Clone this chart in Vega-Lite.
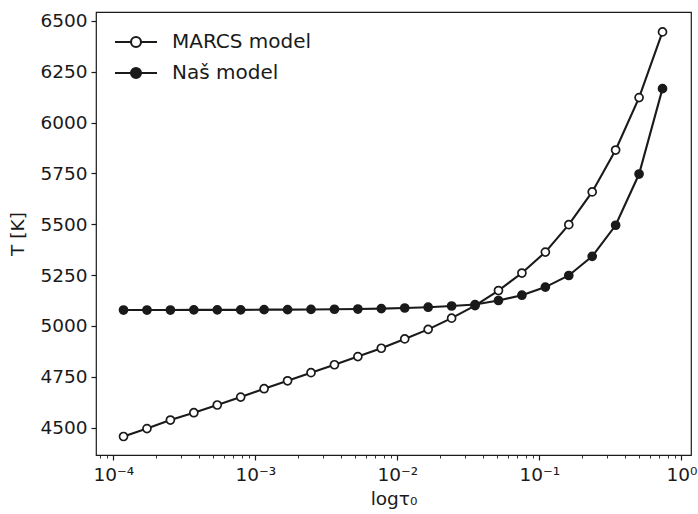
{
  "$schema": "https://vega.github.io/schema/vega-lite/v6.json",
  "width": 595,
  "height": 443,
  "autosize": "none",
  "padding": {"left": 96, "top": 12, "right": 7, "bottom": 59},
  "background": "white",
  "config": {
    "view": {"stroke": "#1a1a1a", "strokeWidth": 1.2},
    "font": "DejaVu Sans",
    "axis": {
      "labelFont": "DejaVu Sans",
      "titleFont": "DejaVu Sans",
      "labelColor": "#1a1a1a",
      "titleColor": "#1a1a1a",
      "tickColor": "#1a1a1a",
      "labelFontSize": 18.5,
      "titleFontSize": 18.5,
      "titleFontWeight": "normal",
      "grid": false,
      "domain": false
    },
    "legend": {
      "labelFont": "DejaVu Sans",
      "labelFontSize": 20,
      "labelColor": "#1a1a1a"
    }
  },
  "data": {
    "values": [
      {"tau": 0.0001180, "T": 4456, "series": "MARCS model"},
      {"tau": 0.0001726, "T": 4495, "series": "MARCS model"},
      {"tau": 0.0002523, "T": 4537, "series": "MARCS model"},
      {"tau": 0.0003690, "T": 4573, "series": "MARCS model"},
      {"tau": 0.0005395, "T": 4611, "series": "MARCS model"},
      {"tau": 0.0007889, "T": 4650, "series": "MARCS model"},
      {"tau": 0.001153, "T": 4691, "series": "MARCS model"},
      {"tau": 0.001687, "T": 4730, "series": "MARCS model"},
      {"tau": 0.002466, "T": 4770, "series": "MARCS model"},
      {"tau": 0.003606, "T": 4809, "series": "MARCS model"},
      {"tau": 0.005272, "T": 4849, "series": "MARCS model"},
      {"tau": 0.007709, "T": 4890, "series": "MARCS model"},
      {"tau": 0.01127, "T": 4936, "series": "MARCS model"},
      {"tau": 0.01648, "T": 4983, "series": "MARCS model"},
      {"tau": 0.02410, "T": 5038, "series": "MARCS model"},
      {"tau": 0.03524, "T": 5100, "series": "MARCS model"},
      {"tau": 0.05152, "T": 5174, "series": "MARCS model"},
      {"tau": 0.07534, "T": 5260, "series": "MARCS model"},
      {"tau": 0.1102, "T": 5363, "series": "MARCS model"},
      {"tau": 0.1611, "T": 5498, "series": "MARCS model"},
      {"tau": 0.2355, "T": 5659, "series": "MARCS model"},
      {"tau": 0.3443, "T": 5865, "series": "MARCS model"},
      {"tau": 0.5035, "T": 6123, "series": "MARCS model"},
      {"tau": 0.7362, "T": 6446, "series": "MARCS model"},
      {"tau": 0.0001180, "T": 5078, "series": "Naš model"},
      {"tau": 0.0001726, "T": 5078, "series": "Naš model"},
      {"tau": 0.0002523, "T": 5078, "series": "Naš model"},
      {"tau": 0.0003690, "T": 5079, "series": "Naš model"},
      {"tau": 0.0005395, "T": 5079, "series": "Naš model"},
      {"tau": 0.0007889, "T": 5079, "series": "Naš model"},
      {"tau": 0.001153, "T": 5080, "series": "Naš model"},
      {"tau": 0.001687, "T": 5080, "series": "Naš model"},
      {"tau": 0.002466, "T": 5081, "series": "Naš model"},
      {"tau": 0.003606, "T": 5082, "series": "Naš model"},
      {"tau": 0.005272, "T": 5083, "series": "Naš model"},
      {"tau": 0.007709, "T": 5085, "series": "Naš model"},
      {"tau": 0.01127, "T": 5088, "series": "Naš model"},
      {"tau": 0.01648, "T": 5092, "series": "Naš model"},
      {"tau": 0.02410, "T": 5098, "series": "Naš model"},
      {"tau": 0.03524, "T": 5105, "series": "Naš model"},
      {"tau": 0.05152, "T": 5125, "series": "Naš model"},
      {"tau": 0.07534, "T": 5151, "series": "Naš model"},
      {"tau": 0.1102, "T": 5191, "series": "Naš model"},
      {"tau": 0.1611, "T": 5248, "series": "Naš model"},
      {"tau": 0.2355, "T": 5342, "series": "Naš model"},
      {"tau": 0.3443, "T": 5495, "series": "Naš model"},
      {"tau": 0.5035, "T": 5747, "series": "Naš model"},
      {"tau": 0.7362, "T": 6167, "series": "Naš model"}
    ]
  },
  "encoding": {
    "x": {
      "field": "tau",
      "type": "quantitative",
      "scale": {"type": "log", "domain": [0.00007553, 1.1685], "nice": false},
      "axis": {
        "title": "logτ₀",
        "values": [0.00008, 0.00009, 0.0001, 0.0002, 0.0003, 0.0004, 0.0005, 0.0006, 0.0007, 0.0008, 0.0009, 0.001, 0.002, 0.003, 0.004, 0.005, 0.006, 0.007, 0.008, 0.009, 0.01, 0.02, 0.03, 0.04, 0.05, 0.06, 0.07, 0.08, 0.09, 0.1, 0.2, 0.3, 0.4, 0.5, 0.6, 0.7, 0.8, 0.9, 1],
        "labelExpr": "datum.value == 0.0001 ? '10⁻⁴' : datum.value == 0.001 ? '10⁻³' : datum.value == 0.01 ? '10⁻²' : datum.value == 0.1 ? '10⁻¹' : datum.value == 1 ? '10⁰' : ''",
        "labelOverlap": false,
        "labelBound": false,
        "labelFlush": false,
        "labelPadding": 5,
        "titlePadding": 6,
        "tickSize": {"condition": {"test": "datum.value == 0.0001 || datum.value == 0.001 || datum.value == 0.01 || datum.value == 0.1 || datum.value == 1", "value": 5}, "value": 3},
        "tickWidth": {"condition": {"test": "datum.value == 0.0001 || datum.value == 0.001 || datum.value == 0.01 || datum.value == 0.1 || datum.value == 1", "value": 1.2}, "value": 0.9}
      }
    },
    "y": {
      "field": "T",
      "type": "quantitative",
      "scale": {"domain": [4365, 6544], "nice": false, "zero": false},
      "axis": {
        "title": "T [K]",
        "values": [4500, 4750, 5000, 5250, 5500, 5750, 6000, 6250, 6500],
        "format": "d",
        "tickSize": 5,
        "tickWidth": 1.2,
        "labelPadding": 4,
        "titlePadding": 12
      }
    }
  },
  "layer": [
    {
      "mark": {"type": "line", "stroke": "#1a1a1a", "strokeWidth": 2.1},
      "encoding": {"detail": {"field": "series", "type": "nominal"}}
    },
    {
      "mark": {"type": "point", "shape": "circle", "size": 64, "stroke": "#1a1a1a", "strokeWidth": 1.7, "opacity": 1, "filled": false},
      "encoding": {
        "fill": {
          "field": "series",
          "type": "nominal",
          "scale": {"domain": ["MARCS model", "Naš model"], "range": ["#ffffff", "#1a1a1a"]},
          "legend": {
            "title": null,
            "orient": "none",
            "legendX": 9,
            "legendY": 20,
            "padding": 0,
            "symbolType": "M-4.2,0L-1,0M-1,0A1,1 0 1,0 1,0A1,1 0 1,0 -1,0ZM1,0L4.2,0",
            "symbolSize": 100,
            "symbolStrokeColor": "#1a1a1a",
            "symbolStrokeWidth": 2.1,
            "symbolOpacity": 1,
            "symbolOffset": 21,
            "labelOffset": 26,
            "rowPadding": 11
          }
        }
      }
    }
  ]
}
